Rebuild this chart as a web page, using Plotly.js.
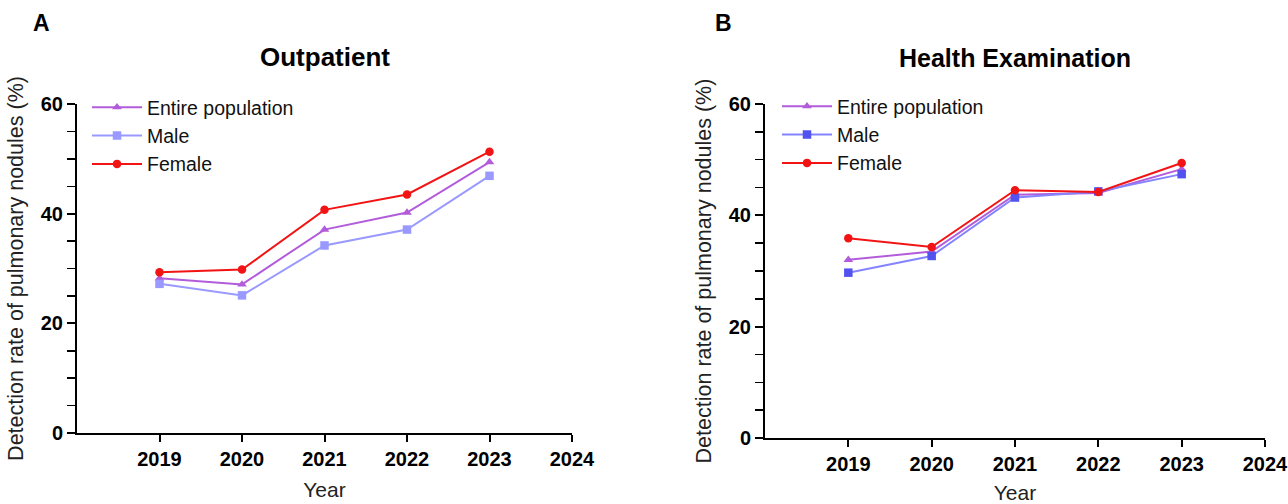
<!DOCTYPE html>
<html>
<head>
<meta charset="utf-8">
<script src="https://cdn.plot.ly/plotly-3.0.1.min.js"></script>
<style>html,body{margin:0;padding:0;background:#fff;}#chart{width:1288px;height:504px;}</style>
</head>
<body>
<div id="chart"></div>
<script>
// ---- data ----
const years = [2019, 2020, 2021, 2022, 2023];
const xTickYears = [2019, 2020, 2021, 2022, 2023, 2024];
const seriesNames = ["Entire population", "Male", "Female"];

const outpatientEntire = [28.2, 27.1, 37.1, 40.2, 49.4];
const outpatientMale   = [27.2, 25.1, 34.2, 37.1, 46.9];
const outpatientFemale = [29.3, 29.8, 40.7, 43.5, 51.3];

const healthEntire = [32.0, 33.5, 43.7, 44.0, 48.3];
const healthMale   = [29.7, 32.7, 43.2, 44.3, 47.4];
const healthFemale = [35.9, 34.3, 44.5, 44.2, 49.4];

const panelTitles = ["Outpatient", "Health Examination"];
const panelLetters = ["A", "B"];
const yTitle = "Detection rate of pulmonary nodules (%)";
const xTitle = "Year";

// ---- styles ----
const FONT = "Liberation Sans, Arial, sans-serif";
const cEntire = "#B35CDB";
const cMaleA = "#9999FF";
const cMaleBLine = "#8484FF";
const cMaleBMarker = "#5252EE";
const cFemale = "#F21414";

function tr(x, y, name, lineColor, markerColor, symbol, size, xa, ya, legend, group) {
  return {
    x: x, y: y, name: name, type: "scatter", mode: "lines+markers",
    xaxis: xa, yaxis: ya, legend: legend, legendgroup: group,
    line: {color: lineColor, width: 2},
    marker: {color: markerColor, symbol: symbol, size: size},
    cliponaxis: false
  };
}

const data = [
  tr(years, outpatientEntire, seriesNames[0], cEntire, cEntire, "triangle-up", 8.5, "x", "y", "legend", "a1"),
  tr(years, outpatientMale, seriesNames[1], cMaleA, cMaleA, "square", 8.5, "x", "y", "legend", "a2"),
  tr(years, outpatientFemale, seriesNames[2], cFemale, cFemale, "circle", 8.5, "x", "y", "legend", "a3"),
  tr(years, healthEntire, seriesNames[0], cEntire, cEntire, "triangle-up", 8.5, "x2", "y2", "legend2", "b1"),
  tr(years, healthMale, seriesNames[1], cMaleBLine, cMaleBMarker, "square", 8.5, "x2", "y2", "legend2", "b2"),
  tr(years, healthFemale, seriesNames[2], cFemale, cFemale, "circle", 8.5, "x2", "y2", "legend2", "b3")
];

const W = 1288, H = 504;
function px(v) { return v / W; }
function py(v) { return (H - v) / H; }

function xaxisDef(domain, anchor) {
  return {
    domain: domain, anchor: anchor, range: [2018, 2024],
    tickvals: xTickYears, ticktext: xTickYears.map(String),
    ticks: "outside", ticklen: 7, tickwidth: 2, tickcolor: "#000",
    showline: true, linewidth: 2, linecolor: "#000",
    showgrid: false, zeroline: false, ticklabeloverflow: "allow",
    tickfont: {family: FONT, size: 20, color: "#000", weight: "bold"},
    title: {text: xTitle, font: {family: FONT, size: 21, color: "#222"}, standoff: 13},
    automargin: false, fixedrange: true
  };
}
function yaxisDef(domain, anchor) {
  return {
    domain: domain, anchor: anchor, range: [0, 60],
    tickvals: [0, 20, 40, 60], ticktext: ["0", "20", "40", "60"],
    ticks: "outside", ticklen: 8, tickwidth: 2, tickcolor: "#000",
    minor: {dtick: 5, tick0: 0, ticks: "outside", ticklen: 8, tickwidth: 1.5, tickcolor: "#000"},
    showline: true, linewidth: 2, linecolor: "#000",
    showgrid: false, zeroline: false,
    tickfont: {family: FONT, size: 20, color: "#000", weight: "bold"},
    title: {text: yTitle, font: {family: FONT, size: 21.5, color: "#222"}, standoff: 11},
    automargin: false, fixedrange: true
  };
}

const legendCommon = {
  font: {family: FONT, size: 19.5, color: "#111"},
  bgcolor: "rgba(0,0,0,0)", borderwidth: 0, itemwidth: 50,
  xanchor: "left", yanchor: "top", tracegroupgap: 0, traceorder: "normal"
};

const layout = {
  width: W, height: H,
  margin: {l: 0, r: 0, t: 0, b: 0},
  paper_bgcolor: "#fff", plot_bgcolor: "#fff",
  showlegend: true,
  xaxis: xaxisDef([px(77), px(572)], "y"),
  yaxis: yaxisDef([py(433), py(104)], "x"),
  xaxis2: xaxisDef([px(765), px(1265)], "y2"),
  yaxis2: yaxisDef([py(438), py(104)], "x2"),
  legend: Object.assign({}, legendCommon, {x: px(87), y: py(88)}),
  legend2: Object.assign({}, legendCommon, {x: px(777), y: py(87)}),
  annotations: [
    {text: panelTitles[0], xref: "paper", yref: "paper", x: px(325), y: py(57), showarrow: false,
     xanchor: "center", yanchor: "middle", font: {family: FONT, size: 26, color: "#000", weight: "bold"}},
    {text: panelTitles[1], xref: "paper", yref: "paper", x: px(1015), y: py(58), showarrow: false,
     xanchor: "center", yanchor: "middle", font: {family: FONT, size: 25, color: "#000", weight: "bold"}},
    {text: panelLetters[0], xref: "paper", yref: "paper", x: px(41), y: py(23), showarrow: false,
     xanchor: "center", yanchor: "middle", font: {family: FONT, size: 23, color: "#000", weight: "bold"}},
    {text: panelLetters[1], xref: "paper", yref: "paper", x: px(723), y: py(23), showarrow: false,
     xanchor: "center", yanchor: "middle", font: {family: FONT, size: 23, color: "#000", weight: "bold"}}
  ]
};

Plotly.newPlot("chart", data, layout, {staticPlot: true, displayModeBar: false});
</script>
</body>
</html>
